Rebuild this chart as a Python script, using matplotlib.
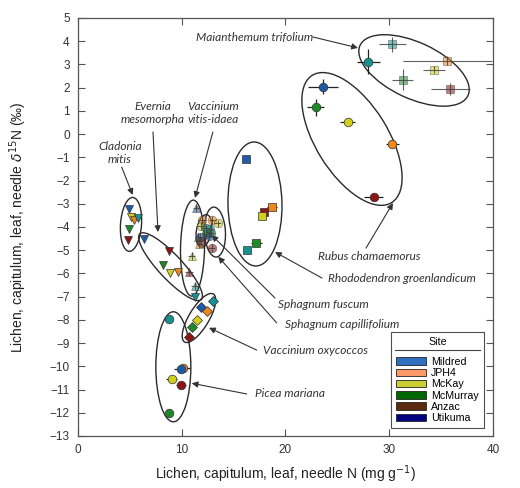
import matplotlib
matplotlib.use('Agg')
import matplotlib.pyplot as plt
from matplotlib.patches import Ellipse, Patch
from matplotlib.transforms import Affine2D
from matplotlib.lines import Line2D

plt.rcParams['font.family'] = ['Liberation Sans', 'DejaVu Sans']

# ---------------- data ----------------
sites = ['Mildred', 'JPH4', 'McKay', 'McMurray', 'Anzac', 'Utikuma']
marker_colors = ['#1f5aa6', '#f0861c', '#d2d01e', '#1d8a26', '#8c1414', '#16918f']
legend_colors = ['#2f6fc0', '#ff9966', '#cccc33', '#006600', '#5c2a10', '#000080']

cladonia_sites = ['Mildred', 'McKay', 'JPH4', 'Utikuma', 'McMurray', 'Anzac']
cladonia_n = [4.92, 5.08, 5.43, 5.75, 4.95, 4.79]
cladonia_d15n = [-3.24, -3.58, -3.70, -3.60, -4.10, -4.56]

evernia_sites = ['Mildred', 'Anzac', 'McMurray', 'McKay', 'JPH4', 'Utikuma']
evernia_n = [6.33, 8.74, 8.16, 8.87, 9.67, 11.28]
evernia_d15n = [-4.53, -5.03, -5.64, -5.97, -5.92, -7.00]

vitis_sites = ['Mildred', 'McKay', 'Anzac', 'Utikuma', 'McMurray', 'JPH4']
vitis_n = [11.40, 10.96, 10.70, 11.28, 11.60, 11.70]
vitis_d15n = [-3.20, -5.25, -5.92, -6.53, -4.45, -4.72]

capill_sites = ['JPH4', 'McKay', 'Utikuma', 'McMurray', 'Mildred', 'Anzac']
capill_n = [11.95, 11.85, 12.30, 12.35, 11.75, 11.90]
capill_d15n = [-3.70, -3.95, -4.05, -4.30, -4.45, -4.60]

fuscum_sites = ['JPH4', 'McKay', 'Utikuma', 'McMurray', 'Mildred', 'Anzac']
fuscum_n = [12.95, 13.45, 12.70, 12.85, 12.60, 12.90]
fuscum_d15n = [-3.70, -3.85, -4.10, -4.25, -4.40, -4.90]

oxy_sites = ['Utikuma', 'Mildred', 'JPH4', 'McKay', 'McMurray', 'Anzac']
oxy_n = [12.98, 11.86, 12.43, 11.44, 10.96, 10.73]
oxy_d15n = [-7.17, -7.43, -7.62, -8.02, -8.31, -8.72]

picea_sites = ['Utikuma', 'JPH4', 'Mildred', 'McKay', 'Anzac', 'McMurray']
picea_n = [8.80, 10.15, 9.90, 9.03, 9.90, 8.80]
picea_d15n = [-7.96, -10.06, -10.12, -10.55, -10.80, -12.00]
picea_nerr = [0.0, 0.6, 0.65, 0.5, 0.5, 0.0]

rhodo_sites = ['Mildred', 'JPH4', 'Anzac', 'McKay', 'McMurray', 'Utikuma']
rhodo_n = [16.20, 18.70, 17.90, 17.70, 17.20, 16.30]
rhodo_d15n = [-1.07, -3.13, -3.34, -3.53, -4.70, -5.00]
rhodo_nerr = [0.0, 0.5, 0.0, 0.0, 0.5, 0.0]

rubus_sites = ['Mildred', 'McMurray', 'McKay', 'JPH4', 'Anzac', 'Utikuma']
rubus_n = [23.6, 22.9, 26.0, 30.3, 28.5, 28.0]
rubus_d15n = [2.04, 1.15, 0.51, -0.44, -2.72, 3.12]
rubus_nerr = [1.45, 0.85, 0.72, 0.64, 0.93, 1.1]
rubus_d15nerr = [0.32, 0.36, 0.10, 0.18, 0.10, 0.53]

maian_sites = ['Utikuma', 'JPH4', 'McKay', 'McMurray', 'Anzac']
maian_n = [30.3, 35.6, 34.3, 31.3, 35.9]
maian_d15n = [3.87, 3.16, 2.76, 2.34, 1.93]
maian_nerr = [1.3, 4.3, 1.05, 1.0, 1.9]
maian_d15nerr = [0.32, 0.2, 0.15, 0.46, 0.25]

# ---------------- figure ----------------
fig = plt.figure(figsize=(5.2, 4.88), dpi=100)
ax = fig.add_axes([0.15, 0.1066, 0.798, 0.8566])
ax.set_xlim(0, 40)
ax.set_ylim(-13, 5)

XPX = 0.798 * 520 / 40.0   # px per data unit x
YPX = 0.8566 * 488 / 18.0  # px per data unit y

cmap = dict(zip(sites, marker_colors))
ms = 6.2
edge = '#333333'


def plot_species(sv, xv, yv, marker, alpha=1.0, xerr=None, yerr=None, cross=False, size=ms):
    for i, s in enumerate(sv):
        xe = None if xerr is None else xerr[i]
        ye = None if yerr is None else yerr[i]
        if (xe or ye) and not cross:
            ax.errorbar(xv[i], yv[i], xerr=xe, yerr=ye, fmt='none', ecolor='#222222',
                        elinewidth=0.9, capsize=0, zorder=3)
        ax.plot(xv[i], yv[i], marker=marker, ms=size, mfc=cmap[s], mec=edge, mew=0.5,
                alpha=alpha, ls='none', zorder=4)
        if cross:
            ax.errorbar(xv[i], yv[i], xerr=xe if xe else 0.35, yerr=ye if ye else 0.17,
                        fmt='none', ecolor='#444444', elinewidth=0.8, capsize=0,
                        alpha=0.85, zorder=5)


plot_species(cladonia_sites, cladonia_n, cladonia_d15n, 'v')
plot_species(evernia_sites, evernia_n, evernia_d15n, 'v')
plot_species(vitis_sites, vitis_n, vitis_d15n, '^', alpha=0.55, cross=True)
plot_species(capill_sites, capill_n, capill_d15n, 'o', alpha=0.55, cross=True)
plot_species(fuscum_sites, fuscum_n, fuscum_d15n, 'o', alpha=0.55, cross=True)
plot_species(oxy_sites, oxy_n, oxy_d15n, 'D', size=5.2)
plot_species(picea_sites, picea_n, picea_d15n, 'o', xerr=picea_nerr)
plot_species(rhodo_sites, rhodo_n, rhodo_d15n, 's', xerr=rhodo_nerr)
plot_species(rubus_sites, rubus_n, rubus_d15n, 'o', xerr=rubus_nerr, yerr=rubus_d15nerr)
plot_species(maian_sites, maian_n, maian_d15n, 's', alpha=0.55, xerr=maian_nerr,
             yerr=maian_d15nerr, cross=True)

# ---------------- ellipses (centre in data, size in px) ----------------
ellipses = [
    (5.11, -3.89, 54, 21, 86),
    (8.92, -5.71, 90, 24, -47),
    (11.04, -4.91, 96, 24, 89),
    (13.20, -4.22, 50, 21, 93),
    (12.14, -4.17, 33, 15, 80),
    (17.06, -3.01, 124, 54, 91),
    (26.41, -0.21, 150, 72, -58),
    (32.39, 2.74, 119, 56, -25),
    (11.66, -7.92, 56, 20, 59),
    (9.19, -10.02, 110, 35, 90),
]
for cx, cy, w, h, ang in ellipses:
    e = Ellipse((0, 0), w, h, angle=ang, fill=False, ec='#2a2a2a', lw=1.0, zorder=2)
    e.set_transform(Affine2D().scale(1 / XPX, 1 / YPX).translate(cx, cy) + ax.transData)
    ax.add_patch(e)

# ---------------- annotations ----------------
tfont = dict(family=['Lato', 'DejaVu Sans'], style='italic', size=8.6, color='#333333')
aprops = dict(arrowstyle='-|>', color='#333333', lw=0.8, mutation_scale=9,
              shrinkA=0, shrinkB=0)


def label(text, tx, ty, ha='center'):
    ax.text(tx, ty, text, ha=ha, va='center', linespacing=1.3, **tfont)


def arrow(x0, y0, x1, y1):
    ax.annotate('', xy=(x1, y1), xytext=(x0, y0), arrowprops=aprops)


label('Cladonia\nmitis', 4.05, -0.81)
arrow(4.21, -1.42, 5.27, -2.62)
label('Evernia\nmesomorpha', 7.23, 0.91)
arrow(7.23, 0.09, 7.71, -4.22)
label('Vaccinium\nvitis-idaea', 13.0, 0.91)
arrow(13.0, 0.09, 11.28, -2.75)
label('Maianthemum trifolium', 22.65, 4.18, ha='right')
arrow(22.65, 4.18, 26.99, 3.71)
label('Rubus chamaemorus', 28.05, -5.29)
arrow(27.76, -4.91, 30.36, -2.97)
label('Rhododendron groenlandicum', 24.1, -6.24, ha='left')
arrow(23.52, -6.20, 18.99, -5.08)
label('Sphagnum fuscum', 19.28, -7.32, ha='left')
arrow(18.99, -7.06, 12.89, -4.35)
label('Sphagnum capillifolium', 19.95, -8.22, ha='left')
arrow(19.15, -8.13, 13.52, -5.28)
label('Vaccinium oxycoccos', 17.83, -9.34, ha='left')
arrow(17.22, -9.30, 12.63, -8.34)
label('Picea mariana', 17.06, -11.19, ha='left')
arrow(16.26, -11.19, 10.96, -10.73)

# ---------------- axes styling ----------------
ax.set_xticks([0, 10, 20, 30, 40])
ax.set_yticks(range(-13, 6))
ax.tick_params(direction='in', top=True, right=True, length=5, width=0.8,
               color='#555555', labelsize=8.5, labelcolor='#333333', pad=6)
for sp in ax.spines.values():
    sp.set_color('#555555')
    sp.set_linewidth(0.9)
ax.set_xlabel('Lichen, capitulum, leaf, needle N (mg g$^{-1}$)', fontsize=10,
              color='#222222', labelpad=5)
ax.set_ylabel('Lichen, capitulum, leaf, needle $\\delta^{15}$N (‰)', fontsize=10,
              color='#222222', labelpad=15)

handles = [Patch(facecolor=c, edgecolor='#222222', lw=0.6, label=s)
           for s, c in zip(sites, legend_colors)]
leg = ax.legend(handles=handles, title='Site', loc='lower right',
                bbox_to_anchor=(0.978, 0.019), fontsize=7.7, title_fontsize=7.7,
                frameon=True, fancybox=False, edgecolor='#222222',
                handlelength=2.8, handleheight=0.7, labelspacing=0.12,
                borderpad=0.45, handletextpad=0.5, borderaxespad=0)
leg.get_frame().set_linewidth(0.8)
leg._legend_box.sep = 7

fig.canvas.draw()
tb = leg.get_title().get_window_extent()
lb = leg.get_window_extent()
inv = fig.transFigure.inverted()
(x0, y0) = inv.transform((lb.x0 + 4, tb.y0 - 3))
(x1, _) = inv.transform((lb.x1 - 4, tb.y0 - 3))
fig.add_artist(Line2D([x0, x1], [y0, y0], color='#444444', lw=0.8))

fig.savefig('out.png', dpi=100)
